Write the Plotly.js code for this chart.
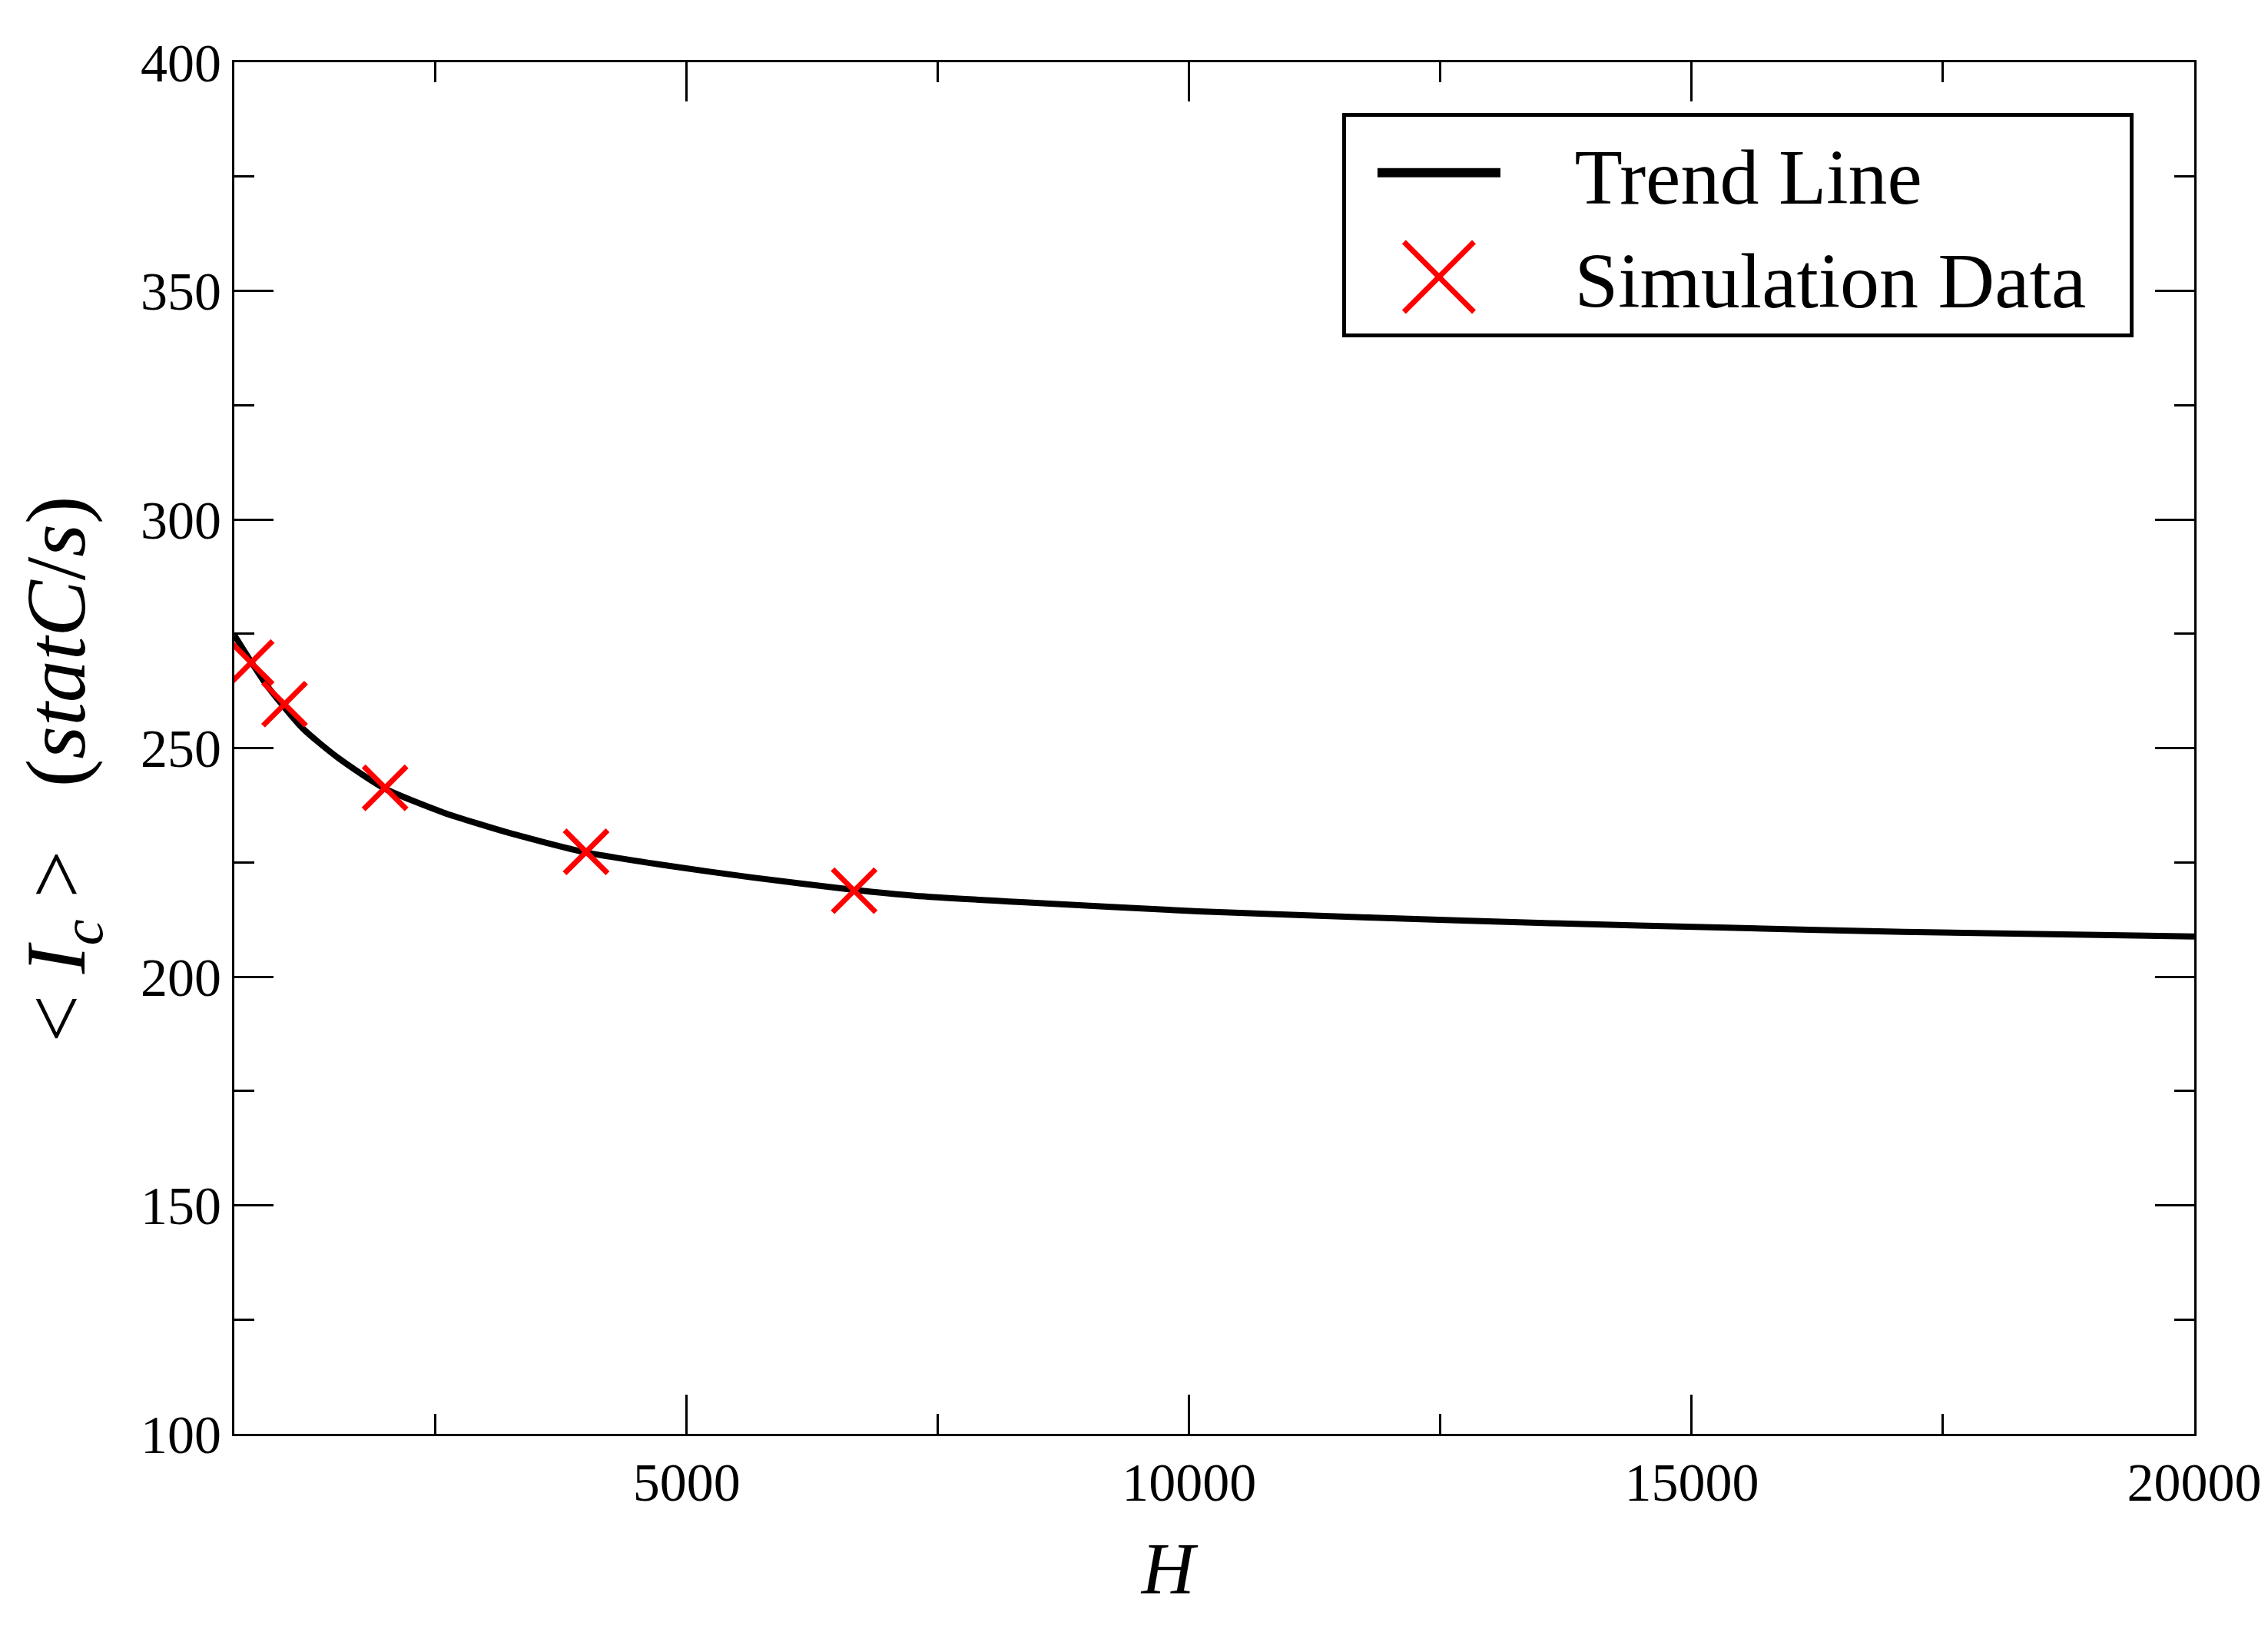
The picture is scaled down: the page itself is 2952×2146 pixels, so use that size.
<!DOCTYPE html>
<html>
<head>
<meta charset="utf-8">
<script src="https://cdn.plot.ly/plotly-3.0.1.min.js"></script>
<style>
  html, body { margin: 0; padding: 0; background: #fff; }
  #chart { width: 2952px; height: 2146px; }
</style>
</head>
<body>
<div id="chart"></div>
<script>
// values
var trendH = [500, 820, 1180, 1530, 1990, 2580, 3240, 3990, 4770, 5650, 6660, 7270, 8330, 10090, 11840, 13600, 15350, 17110, 20000];
var trendI = [274.7, 263.8, 254.3, 247.9, 241.2, 235.9, 231.4, 227.2, 224.4, 221.7, 219.0, 217.7, 216.3, 214.3, 212.9, 211.7, 210.7, 209.8, 208.8];

var simH = [667, 1000, 2000, 4000, 6667];
var simI = [268.7, 259.6, 241.3, 227.3, 218.8];

var serif = 'Liberation Serif, Times New Roman, serif';
var pad = '&nbsp;&nbsp;&nbsp;&nbsp;&nbsp;';

var trend = {
  x: trendH,
  y: trendI,
  mode: 'lines',
  name: pad + 'Trend Line',
  line: { color: 'black', width: 8, shape: 'spline', smoothing: 0.6 }
};

var sim = {
  x: simH,
  y: simI,
  mode: 'markers',
  name: pad + 'Simulation Data&nbsp;&nbsp;',
  marker: { symbol: 'x-thin', size: 56, color: 'red', line: { color: 'red', width: 7 } }
};

function axisBase() {
  return {
    showgrid: false,
    zeroline: false,
    showline: true,
    linecolor: 'black',
    linewidth: 3,
    mirror: 'allticks',
    ticks: 'inside',
    ticklen: 51,
    tickwidth: 3,
    tickcolor: 'black',
    tickfont: { family: serif, size: 70, color: 'black' }
  };
}

var xaxis = axisBase();
xaxis.range = [500, 20000];
xaxis.tick0 = 0;
xaxis.dtick = 5000;
xaxis.tickformat = 'd';
xaxis.minor = { tick0: 0, dtick: 2500, ticks: 'inside', ticklen: 26, tickwidth: 3, tickcolor: 'black' };
xaxis.title = { text: '<i>H</i>&nbsp;&nbsp;&nbsp;&nbsp;&nbsp;', font: { family: serif, size: 96, color: 'black' }, standoff: 40 };

var yaxis = axisBase();
yaxis.range = [100, 400];
yaxis.tick0 = 0;
yaxis.dtick = 50;
yaxis.minor = { tick0: 0, dtick: 25, ticks: 'inside', ticklen: 26, tickwidth: 3, tickcolor: 'black' };
yaxis.title = {
  text: '&lt;&nbsp;<i>I</i><sub><i>c</i></sub>&nbsp;&gt;&nbsp;&nbsp;&nbsp;(<i>statC</i>/<i>s</i>)&nbsp;&nbsp;',
  font: { family: serif, size: 110, color: 'black' },
  standoff: 36
};

var layout = {
  width: 2952,
  height: 2146,
  margin: { l: 305, r: 96, t: 81, b: 280 },
  paper_bgcolor: 'white',
  plot_bgcolor: 'white',
  xaxis: xaxis,
  yaxis: yaxis,
  showlegend: true,
  legend: {
    x: 0.969, xanchor: 'right',
    y: 0.963, yanchor: 'top',
    bgcolor: 'white',
    bordercolor: 'black',
    borderwidth: 5,
    font: { family: serif, size: 102, color: 'black' },
    itemwidth: 160,
    tracegroupgap: 0
  }
};

Plotly.newPlot('chart', [trend, sim], layout, { staticPlot: true }).then(function (gd) {
  // plotly caps legend symbol sizes, enlarge them to match the picture
  gd.querySelectorAll('.legend .legendpoints path.scatterpts').forEach(function (p) {
    var t = p.getAttribute('transform') || '';
    p.setAttribute('transform', t + ' scale(5.7)');
    p.style.vectorEffect = 'non-scaling-stroke';
    p.style.strokeWidth = '7px';
  });
  gd.querySelectorAll('.legend .legendlines path').forEach(function (p) {
    p.style.strokeWidth = '12px';
  });
  // nudge the symbols right, away from the box edge
  gd.querySelectorAll('.legend .legendpoints, .legend .legendlines').forEach(function (g) {
    g.setAttribute('transform', 'translate(36,0)');
  });
});
</script>
</body>
</html>
